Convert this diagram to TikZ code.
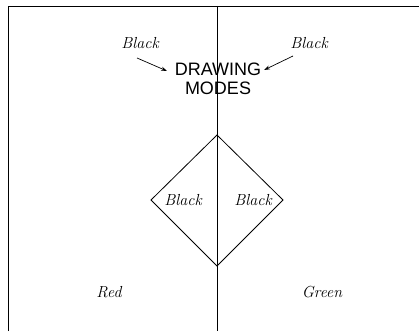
\documentclass[tikz,border=0pt]{standalone}
\usepackage{fontspec}
\newfontfamily\sansf{Liberation Sans}
\usetikzlibrary{arrows.meta}
\begin{document}
\begin{tikzpicture}[x=1pt,y=-1pt,
  lbl/.style={font=\fontsize{16}{18}\selectfont\itshape, inner sep=0pt},
  ttl/.style={font=\fontsize{18}{21}\sansf, inner sep=0pt, align=center},
  ln/.style={line width=0.8pt},
  arr/.style={line width=0.7pt, -{Stealth[length=6pt,width=4pt]}}]
\useasboundingbox (0,0) rectangle (419,331);
\coordinate (tl) at (8,6);
\coordinate (tr) at (419,6);
\coordinate (bl) at (8,331);
\coordinate (ct) at (217,6);
\coordinate (cb) at (217,331);
\draw[ln] (bl) -- (tl) -- (tr);
\draw[ln] (ct) -- (cb);
\coordinate (dt) at (217,135);
\coordinate (dl) at (151,200);
\coordinate (db) at (217,266);
\coordinate (dr) at (283,200);
\draw[ln] (dt) -- (dl) -- (db) -- (dr) -- cycle;
\node[lbl] (bl1) at (140,43) {Black};
\node[lbl] (bl2) at (309,43) {Black};
\node[ttl] (t1) at (218,69) {DRAWING};
\node[ttl] (t2) at (218,88) {MODES};
\coordinate (a1s) at (137,58);
\coordinate (a1e) at (167,71);
\coordinate (a2s) at (293,56);
\coordinate (a2e) at (264,70);
\draw[arr] (a1s) -- (a1e);
\draw[arr] (a2s) -- (a2e);
\node[lbl] (dbl) at (183,200) {Black};
\node[lbl] (dbr) at (253,200) {Black};
\node[lbl] (red) at (109,292) {Red};
\node[lbl] (grn) at (322,292) {Green};
\end{tikzpicture}
\end{document}
